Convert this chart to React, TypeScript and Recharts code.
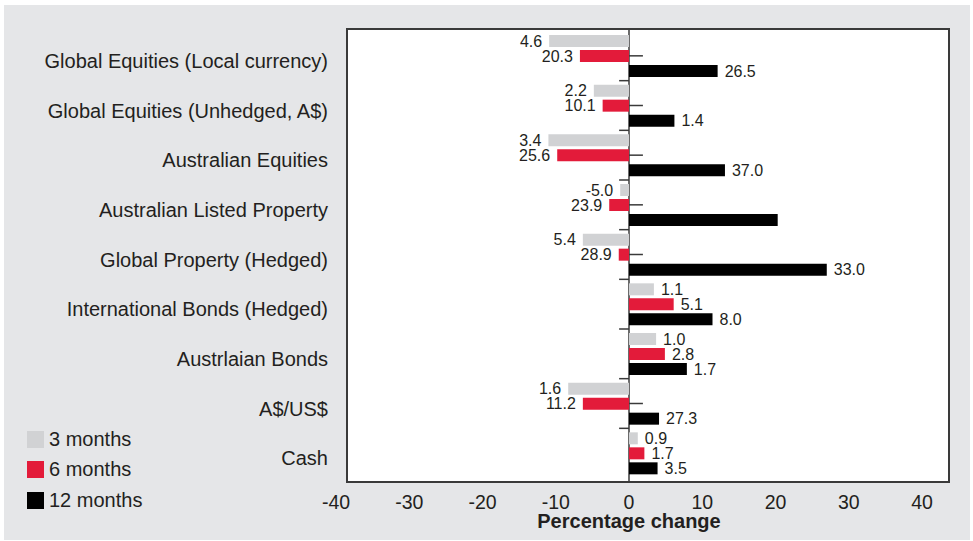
import React from "react";
import {
  BarChart,
  Bar,
  XAxis,
  YAxis,
  ReferenceLine,
  LabelList,
  Legend
} from "recharts";

const categories = [
  "Global Equities (Local currency)",
  "Global Equities (Unhedged, A$)",
  "Australian Equities",
  "Australian Listed Property",
  "Global Property (Hedged)",
  "International Bonds (Hedged)",
  "Austrlaian Bonds",
  "A$/US$",
  "Cash"
];

// bar lengths as drawn in the picture
const threeMonths = [-10.9, -4.8, -11.0, -1.2, -6.3, 3.4, 3.7, -8.3, 1.2];
const sixMonths = [-6.7, -3.6, -9.8, -2.7, -1.4, 6.1, 4.9, -6.3, 2.1];
const twelveMonths = [12.1, 6.2, 13.1, 20.3, 27.0, 11.4, 7.9, 4.1, 3.9];

// the printed labels (they don't match the bar lengths in the original)
const threeMonthLabels = ["4.6", "2.2", "3.4", "-5.0", "5.4", "1.1", "1.0", "1.6", "0.9"];
const sixMonthLabels = ["20.3", "10.1", "25.6", "23.9", "28.9", "5.1", "2.8", "11.2", "1.7"];
const twelveMonthLabels = ["26.5", "1.4", "37.0", "", "33.0", "8.0", "1.7", "27.3", "3.5"];

const seriesNames = ["3 months", "6 months", "12 months"];

const xTicks = [-40, -30, -20, -10, 0, 10, 20, 30, 40];

const GREY = "#d1d2d4";
const RED = "#e31b3a";
const BLACK = "#000000";
const AXIS = "#3a3a3a";
const TEXT = "#231f20";
const FONT = "'Liberation Sans', Arial, sans-serif";
const seriesColors = [GREY, RED, BLACK];

const data = categories.map((name, i) => ({
  name,
  m3: threeMonths[i],
  m6: sixMonths[i],
  m12: twelveMonths[i]
}));

const makeLabel = (values: number[], labels: string[]) => (props: any) => {
  const { index } = props;
  const text = labels[index];
  if (!text) return null;
  const vb = props.viewBox ?? props;
  const x = Number(vb.x);
  const w = Number(vb.width);
  const y = Number(vb.y);
  const h = Number(vb.height);
  const left = Math.min(x, x + w);
  const right = Math.max(x, x + w);
  const neg = values[index] < 0;
  return (
    <text
      x={neg ? left - 7 : right + 7}
      y={y + h / 2}
      dy={5.8}
      textAnchor={neg ? "end" : "start"}
      fontSize={16}
      fontFamily={FONT}
      fill={TEXT}
    >
      {text}
    </text>
  );
};

const CategoryTick = (props: any) => {
  const { x, y, payload } = props;
  return (
    <text x={x} y={y} dy={12} textAnchor="end" fontSize={20} fontFamily={FONT} fill={TEXT}>
      {payload.value}
    </text>
  );
};

const renderLegend = () => (
  <div style={{ fontFamily: FONT, fontSize: 20, color: TEXT }}>
    {seriesNames.map((name, i) => (
      <div key={name} style={{ display: "flex", alignItems: "center", height: 30.5 }}>
        <span
          style={{ display: "inline-block", width: 17, height: 17, background: seriesColors[i], marginRight: 5 }}
        />
        <span>{name}</span>
      </div>
    ))}
  </div>
);

export default function App() {
  return (
    <div style={{ position: "absolute", left: 0, top: 0, width: 973, height: 541, background: "#fff" }}>
      <div
        style={{ position: "absolute", left: 4, top: 5, width: 966, height: 535, background: "#e5e6e8" }}
      />
      <div
        style={{
          position: "absolute",
          left: 346,
          top: 28,
          width: 604,
          height: 455,
          boxSizing: "border-box",
          background: "#fff",
          border: `2px solid ${AXIS}`
        }}
      />
      <div style={{ position: "absolute", left: 0, top: 0 }}>
        <BarChart
          width={973}
          height={541}
          data={data}
          layout="vertical"
          margin={{ top: 28, right: 51, bottom: 3, left: 6 }}
          barSize={12}
          barGap={3}
        >
          <XAxis
            type="number"
            domain={[-40, 40]}
            ticks={xTicks}
            axisLine={false}
            tickLine={false}
            tickMargin={7}
            height={56}
            tick={{ fontSize: 19.5, fill: TEXT, fontFamily: FONT }}
            label={(p: any) => {
              const vb = p.viewBox;
              return (
                <text
                  x={vb.x + vb.width / 2}
                  y={vb.y + 46}
                  textAnchor="middle"
                  fontSize={20}
                  fontWeight="bold"
                  fontFamily={FONT}
                  fill={TEXT}
                >
                  Percentage change
                </text>
              );
            }}
          />
          <YAxis
            type="category"
            dataKey="name"
            width={330}
            axisLine={false}
            tickLine={false}
            tick={CategoryTick}
            interval={0}
            padding={{ top: 3, bottom: 4 }}
          />
          <ReferenceLine x={0} stroke={AXIS} strokeWidth={1.5} zIndex={250} />
          {categories.slice(1).map((c) => (
            <ReferenceLine
              key={`lt-${c}`}
              segment={[{ x: -1.35, y: c }, { x: 0, y: c }]}
              position="start"
              stroke={AXIS}
              strokeWidth={1.5}
              zIndex={250}
            />
          ))}
          {categories.map((c) => (
            <ReferenceLine
              key={`rt-${c}`}
              segment={[{ x: 0, y: c }, { x: 1.9, y: c }]}
              position="middle"
              stroke={AXIS}
              strokeWidth={1.5}
              zIndex={250}
            />
          ))}
          <Legend
            content={renderLegend}
            layout="vertical"
            align="center"
            verticalAlign="middle"
            wrapperStyle={{ left: 27, top: 424, width: 160, height: 95 }}
          />
          <Bar dataKey="m3" name="3 months" fill={GREY} isAnimationActive={false}>
            <LabelList dataKey="m3" content={makeLabel(threeMonths, threeMonthLabels)} />
          </Bar>
          <Bar dataKey="m6" name="6 months" fill={RED} isAnimationActive={false}>
            <LabelList dataKey="m6" content={makeLabel(sixMonths, sixMonthLabels)} />
          </Bar>
          <Bar dataKey="m12" name="12 months" fill={BLACK} isAnimationActive={false}>
            <LabelList dataKey="m12" content={makeLabel(twelveMonths, twelveMonthLabels)} />
          </Bar>
        </BarChart>
      </div>
    </div>
  );
}
